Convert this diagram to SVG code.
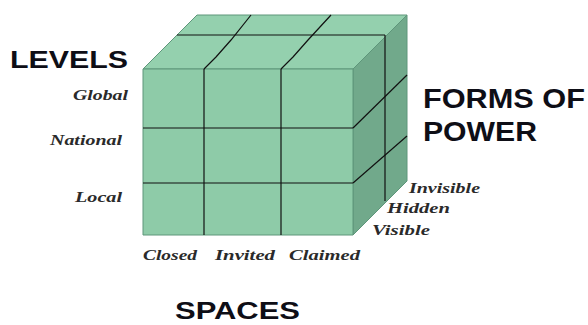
<svg xmlns="http://www.w3.org/2000/svg" width="588" height="325" viewBox="0 0 588 325">
<style>
.face{stroke:#5e967a;stroke-width:1;stroke-linejoin:round}
.grid{stroke:#111;stroke-width:1.2;fill:none}
.title{font-family:"Liberation Sans",Arial,sans-serif;font-weight:bold;fill:#0e0e16}
.lbl{font-family:"Liberation Serif","Times New Roman",serif;font-style:italic;font-weight:bold;font-size:15px;fill:#2a2a2a}
</style>
<rect width="588" height="325" fill="#ffffff"/>
<g id="cube">
<polygon class="face" points="143,69 197,15 407,15 353,69" fill="#94d0ae"/>
<polygon class="face" points="353,69 407,15 407,181 353,235" fill="#71a98b"/>
<rect class="face" x="143" y="69" width="210" height="166" fill="#8ecba8"/>
</g>
<g id="connectors">
<line class="grid" x1="204" y1="69" x2="204" y2="235"/>
<line class="grid" x1="281" y1="69" x2="281" y2="235"/>
<line class="grid" x1="143" y1="128" x2="353" y2="128"/>
<line class="grid" x1="143" y1="183" x2="353" y2="183"/>
<polyline class="grid" points="204,69 216,57 231,40 251,15"/>
<polyline class="grid" points="281,69 293,57 308,40 331,15"/>
<line class="grid" x1="177" y1="35" x2="385" y2="35"/>
<line class="grid" x1="385" y1="35" x2="385" y2="201"/>
<line class="grid" x1="353" y1="128" x2="407" y2="75"/>
<line class="grid" x1="353" y1="183" x2="407" y2="136"/>
</g>
<g id="levels">
<text class="title" x="10" y="68" font-size="24" textLength="118" lengthAdjust="spacingAndGlyphs">LEVELS</text>
<text class="lbl" x="73" y="100" textLength="55" lengthAdjust="spacingAndGlyphs">Global</text>
<text class="lbl" x="50" y="145" textLength="72" lengthAdjust="spacingAndGlyphs">National</text>
<text class="lbl" x="75" y="202" textLength="47" lengthAdjust="spacingAndGlyphs">Local</text>
</g>
<g id="forms">
<text class="title" x="423" y="108" font-size="27" textLength="162" lengthAdjust="spacingAndGlyphs">FORMS OF</text>
<text class="title" x="423" y="141" font-size="27" textLength="114" lengthAdjust="spacingAndGlyphs">POWER</text>
<text class="lbl" x="409" y="193" textLength="71" lengthAdjust="spacingAndGlyphs">Invisible</text>
<text class="lbl" x="387" y="213" textLength="63" lengthAdjust="spacingAndGlyphs">Hidden</text>
<text class="lbl" x="372" y="235" textLength="58" lengthAdjust="spacingAndGlyphs">Visible</text>
</g>
<g id="spaces">
<text class="lbl" x="143" y="260" textLength="54" lengthAdjust="spacingAndGlyphs">Closed</text>
<text class="lbl" x="215" y="260" textLength="60" lengthAdjust="spacingAndGlyphs">Invited</text>
<text class="lbl" x="289" y="260" textLength="71" lengthAdjust="spacingAndGlyphs">Claimed</text>
<text class="title" x="175" y="319" font-size="23" textLength="125" lengthAdjust="spacingAndGlyphs">SPACES</text>
</g>
</svg>
